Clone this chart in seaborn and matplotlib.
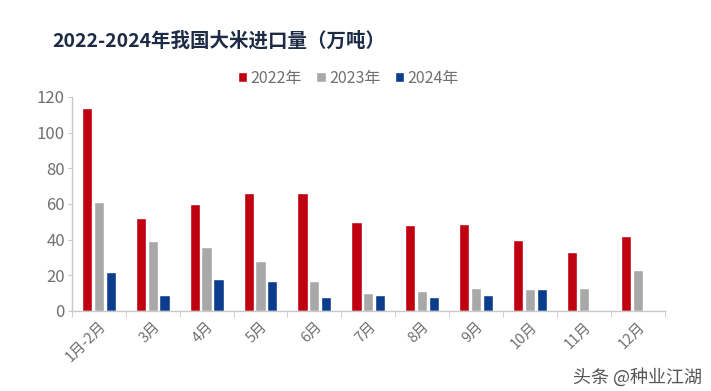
import numpy as np
import pandas as pd
import matplotlib
matplotlib.use("Agg")
import matplotlib.pyplot as plt
import seaborn as sns

# 数据（万吨）
months = ["1月-2月", "3月", "4月", "5月", "6月", "7月", "8月", "9月", "10月", "11月", "12月"]
years = ["2022年", "2023年", "2024年"]
imp_2022 = [114, 52, 60, 66, 66, 50, 48, 49, 40, 33, 42]
imp_2023 = [61, 39, 36, 28, 17, 10, 11, 13, 12, 13, 23]
imp_2024 = [22, 9, 18, 17, 8, 9, 8, 9, 12, np.nan, np.nan]
colors = ["#c00010", "#a8a8a8", "#0c3c8c"]

df = pd.DataFrame({
    "month": months * 3,
    "year": [y for y in years for _ in months],
    "value": imp_2022 + imp_2023 + imp_2024,
})

sns.set_style("white")
plt.rcParams["font.family"] = ["Noto Sans CJK SC", "DejaVu Sans"]

fig = plt.figure(figsize=(7.11, 3.91), dpi=100)
ax = fig.add_axes([0.101, 0.205, 0.834, 0.547])

sns.barplot(data=df, x="month", y="value", hue="year", palette=colors,
            order=months, hue_order=years, width=0.66, gap=0.14,
            saturation=1, ax=ax, legend=True)

ax.set_xlim(-0.5, len(months) - 0.5)
ax.set_ylim(0, 120)
ax.set_yticks(range(0, 121, 20))
ax.set_xlabel("")
ax.set_ylabel("")

axis_grey = "#c8c8c8"
text_grey = "#707070"
for side in ["top", "right"]:
    ax.spines[side].set_visible(False)
for side in ["left", "bottom"]:
    ax.spines[side].set_color(axis_grey)
    ax.spines[side].set_linewidth(1.0)

ax.tick_params(axis="y", length=3, color=axis_grey, labelcolor=text_grey,
               labelsize=12, pad=2, left=True)
ax.set_xticks(range(len(months)))
ax.set_xticklabels(months, rotation=45, ha="right", rotation_mode="anchor",
                   fontsize=10.5, color=text_grey)
ax.tick_params(axis="x", which="major", length=0, pad=6)
ax.set_xticks(np.arange(-0.5, len(months), 1), minor=True)
ax.tick_params(axis="x", which="minor", length=4, color=axis_grey, bottom=True)

# 图例
handles, labels = ax.get_legend_handles_labels()
ax.legend_.remove()
fig.legend(handles, labels, loc="center", bbox_to_anchor=(0.49, 0.80),
           ncol=3, frameon=False, fontsize=11.5, handlelength=0.6,
           handleheight=0.6, handletextpad=0.2, columnspacing=0.9,
           labelcolor=text_grey)

# 标题
fig.text(0.073, 0.895, "2022-2024年我国大米进口量（万吨）", fontsize=14,
         fontweight="bold", color="#1d2b45", ha="left", va="center")

# 水印
fig.text(0.988, 0.035, "头条 @种业江湖", fontsize=13, color="#555555",
         ha="right", va="center")

fig.savefig("out.png", dpi=100)
